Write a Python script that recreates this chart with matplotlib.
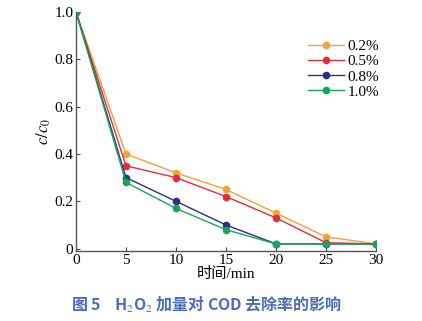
import matplotlib.pyplot as plt

plt.rcParams['font.family'] = ['Liberation Serif', 'Noto Sans CJK SC']
plt.rcParams['mathtext.fontset'] = 'stix'

times = [0, 5, 10, 15, 20, 25, 30]
labels = ['0.2%', '0.5%', '0.8%', '1.0%']
c02 = [1.0, 0.40, 0.32, 0.25, 0.15, 0.05, 0.02]
c05 = [1.0, 0.35, 0.30, 0.22, 0.13, 0.025, 0.02]
c08 = [1.0, 0.30, 0.20, 0.10, 0.02, 0.02, 0.02]
c10 = [1.0, 0.28, 0.17, 0.08, 0.02, 0.02, 0.02]
colors = ['#F5A03A', '#E52D3A', '#2C2F86', '#17A55A']

fig = plt.figure(figsize=(4.22, 3.21), dpi=100)
ax = fig.add_axes([0.180, 0.218, 0.711, 0.745])

for ys, lab, col in zip([c02, c05, c08, c10], labels, colors):
    ax.plot(times, ys, color=col, lw=1.0, marker='o', ms=4.5, label=lab)

ax.set_xlim(0, 30)
ax.set_ylim(-0.01, 1.0)
ax.set_xticks([0, 5, 10, 15, 20, 25, 30])
ax.set_yticks([0, 0.2, 0.4, 0.6, 0.8, 1.0])
ax.set_yticklabels(['0', '0.2', '0.4', '0.6', '0.8', '1.0'])
ax.tick_params(direction='in', length=3, width=0.8, labelsize=11, color='#444444', pad=2)
for s in ['top', 'right']:
    ax.spines[s].set_visible(False)
for s in ['left', 'bottom']:
    ax.spines[s].set_color('#555555')
    ax.spines[s].set_linewidth(1.0)

ax.set_xlabel('时间/min', fontsize=11, labelpad=0)
ax.set_ylabel('$c/c_0$', fontsize=12, labelpad=1)

ax.legend(loc='upper left', bbox_to_anchor=(0.775, 0.885), frameon=False,
          fontsize=11, handlelength=2.3, handletextpad=0.25, labelspacing=0.1,
          borderpad=0, borderaxespad=0)

fig.text(0.49, 0.05, '图 5    H$_2$O$_2$ 加量对 COD 去除率的影响', ha='center', va='center',
         fontsize=11.5, color='#4A6DB8', fontweight='bold',
         family=['Noto Sans CJK SC', 'DejaVu Sans'])

fig.savefig('out.png', dpi=100)
